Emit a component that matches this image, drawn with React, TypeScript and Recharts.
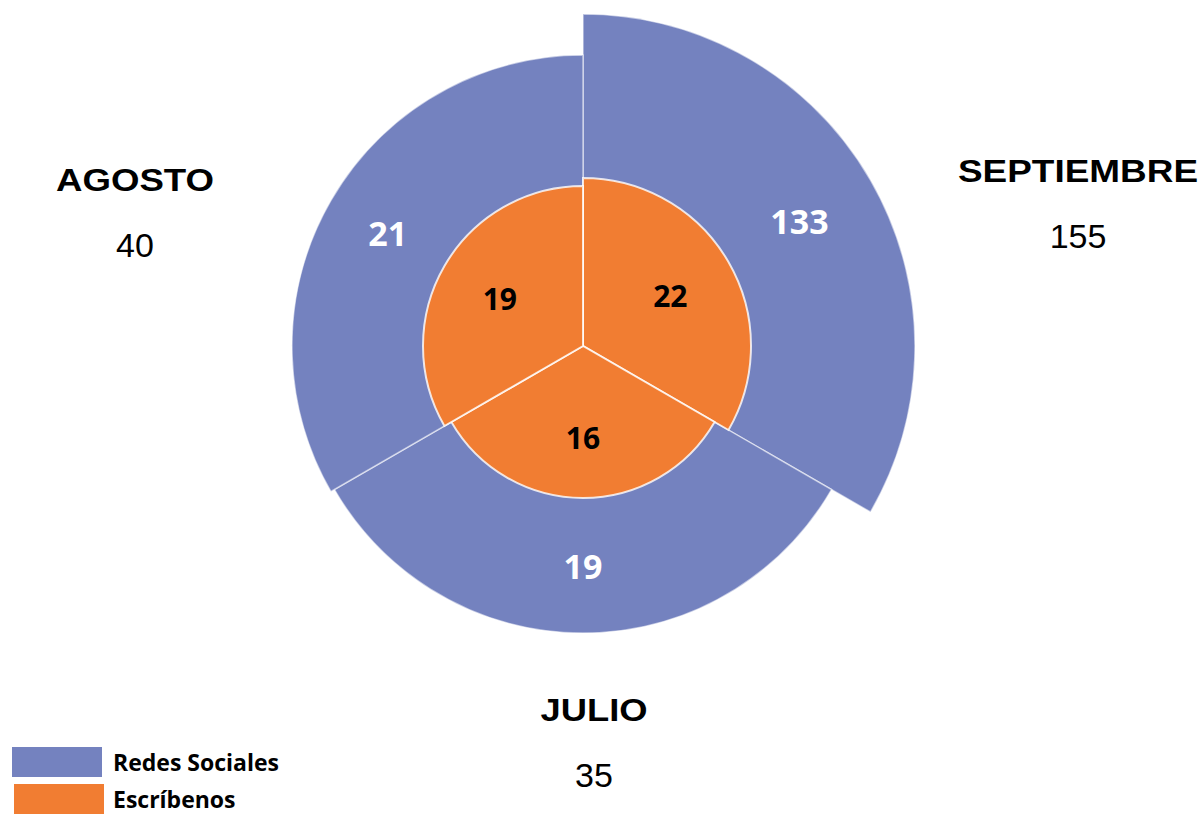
// Nested rose chart: Escríbenos (inner) and Redes Sociales (outer) per month
import { Legend, Pie, PieChart, Sector } from "recharts";

const months = ["SEPTIEMBRE", "JULIO", "AGOSTO"];
const redesSociales = [133, 19, 21];
const escribenos = [22, 16, 19];
const totals = [155, 35, 40];
const seriesNames = ["Redes Sociales", "Escríbenos"];

const BLUE = "#7482bf";
const ORANGE = "#f17d32";
const RADIAN = Math.PI / 180;

const data = months.map((month, i) => ({
  month,
  redes: redesSociales[i],
  escribe: escribenos[i],
  total: totals[i],
}));

// radius scales: inner ring from the Escríbenos value, outer edge from the month total (log)
const innerRadius = (v: number) => 152 + ((v - 16) / (22 - 16)) * (168 - 152);
const outerRadius = (v: number) =>
  287 + ((Math.log(v) - Math.log(35)) / (Math.log(155) - Math.log(35))) * (332 - 287);

// where the month name / total text sits, one per month
const monthLabelPos = [
  { x: 1078, y: 182, len: 240 },
  { x: 594, y: 721, len: 107 },
  { x: 135, y: 191, len: 158 },
];

const polar = (cx: number, cy: number, r: number, angle: number) => ({
  x: cx + r * Math.cos(-angle * RADIAN),
  y: cy + r * Math.sin(-angle * RADIAN),
});

function OuterShape(props: any) {
  const entry = props.payload ?? props;
  return <Sector {...props} innerRadius={0} outerRadius={outerRadius(entry.total)} />;
}

function InnerShape(props: any) {
  const entry = props.payload ?? props;
  return <Sector {...props} innerRadius={0} outerRadius={innerRadius(entry.escribe)} />;
}

function OuterLabel(props: any) {
  const { cx, cy, midAngle, index } = props;
  const entry = props.payload ?? props;
  const r = (innerRadius(entry.escribe) + outerRadius(entry.total)) / 2;
  const p = polar(cx, cy, r, midAngle);
  const m = monthLabelPos[index];
  return (
    <g>
      <text
        x={p.x}
        y={p.y}
        textAnchor="middle"
        dominantBaseline="central"
        fill="#ffffff"
        fontFamily="'Open Sans', sans-serif"
        fontWeight={700}
        fontSize={34}
      >
        {entry.redes}
      </text>
      <text
        x={m.x}
        y={m.y}
        textAnchor="middle"
        fill="#000"
        fontFamily="'Liberation Sans', Arial, sans-serif"
        fontWeight={700}
        fontSize={31}
        textLength={m.len}
        lengthAdjust="spacingAndGlyphs"
      >
        {entry.month}
      </text>
      <text
        x={m.x}
        y={m.y + 66}
        textAnchor="middle"
        fill="#000"
        fontFamily="'Liberation Sans', Arial, sans-serif"
        fontSize={34}
      >
        {entry.total}
      </text>
    </g>
  );
}

function InnerLabel(props: any) {
  const { cx, cy, midAngle } = props;
  const entry = props.payload ?? props;
  const p = polar(cx, cy, innerRadius(entry.escribe) * 0.6, midAngle);
  return (
    <text
      x={p.x}
      y={p.y}
      textAnchor="middle"
      dominantBaseline="central"
      fill="#000"
      fontFamily="'Open Sans', sans-serif"
      fontWeight={700}
      fontSize={30}
    >
      {entry.escribe}
    </text>
  );
}

function LegendBox() {
  const colors = [BLUE, ORANGE];
  return (
    <div style={{ fontFamily: "'Open Sans', sans-serif", fontWeight: 700, fontSize: 23 }}>
      {seriesNames.map((name, i) => (
        <div
          key={name}
          style={{ display: "flex", alignItems: "center", height: i === 0 ? 44 : 30 }}
        >
          <div style={{ width: 90, height: 30, background: colors[i], marginLeft: 12 + i * 2 }} />
          <span style={{ marginLeft: 11 - i * 2, color: "#000", lineHeight: 1 }}>{name}</span>
        </div>
      ))}
    </div>
  );
}

export default function App() {
  return (
    <div style={{ position: "absolute", left: 0, top: 0, background: "#fff" }}>
      <PieChart width={1202} height={816} margin={{ top: 0, right: 0, bottom: 0, left: 0 }}>
        <Pie
          data={data}
          dataKey={() => 1}
          cx={583}
          cy={346}
          startAngle={90}
          endAngle={-270}
          outerRadius={300}
          stroke="rgba(255,255,255,0.55)"
          strokeWidth={1.5}
          fill={BLUE}
          shape={OuterShape}
          label={OuterLabel}
          labelLine={false}
          isAnimationActive={false}
        />
        <Pie
          data={data}
          dataKey={() => 1}
          cx={583}
          cy={346}
          startAngle={90}
          endAngle={-270}
          outerRadius={160}
          stroke="rgba(255,255,255,0.8)"
          strokeWidth={2}
          fill={ORANGE}
          shape={InnerShape}
          label={InnerLabel}
          labelLine={false}
          isAnimationActive={false}
        />
        <Legend
          content={() => <LegendBox />}
          wrapperStyle={{ left: 0, top: 740, width: 320, bottom: "auto" }}
        />
      </PieChart>
    </div>
  );
}
